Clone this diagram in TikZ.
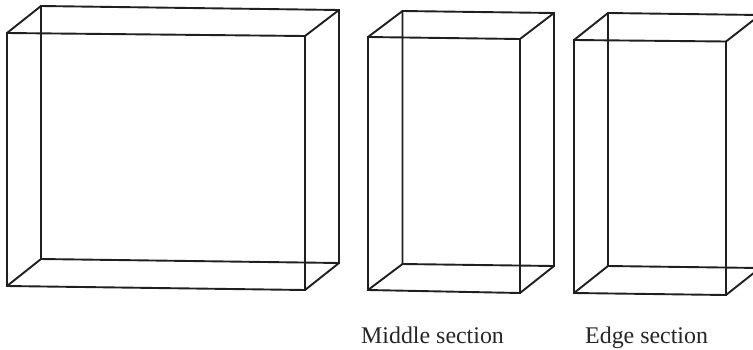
\documentclass[tikz,border=0pt]{standalone}
\usepackage{fontspec}
\setmainfont{Liberation Serif}
\tikzset{edge/.style={draw=black!88,line width=1.9pt,line join=miter,line cap=round},
  caption/.style={inner sep=0pt,anchor=base west,font=\fontsize{23.9}{26}\selectfont,text=black!85}}
\begin{document}
\begin{tikzpicture}[x=1pt,y=-1pt]
\useasboundingbox (0,0) rectangle (753,349);
\clip (0,0) rectangle (753,349);
% Large block
\draw[edge] (7,33) -- (305,36) -- (305,290) -- (7,286) -- cycle;
\draw[edge] (41,6) -- (339,10) -- (339,263) -- (41,259) -- cycle;
\draw[edge] (7,33) -- (41,6) (305,36) -- (339,10) (305,290) -- (339,263) (7,286) -- (41,259);
% Middle section
\draw[edge] (368,37) -- (520,39) -- (520,293) -- (368,290) -- cycle;
\draw[edge] (402.5,11) -- (554,13) -- (554,266) -- (402.5,264) -- cycle;
\draw[edge] (368,37) -- (402.5,11) (520,39) -- (554,13) (520,293) -- (554,266) (368,290) -- (402.5,264);
% Edge section
\draw[edge] (574,40) -- (726,41.5) -- (726,295) -- (574,293) -- cycle;
\draw[edge] (608,13) -- (760,15) -- (760,268) -- (608,266) -- cycle;
\draw[edge] (574,40) -- (608,13) (726,41.5) -- (760,15) (726,295) -- (760,268) (574,293) -- (608,266);
% Labels
\node[caption] (middle) at (361,343) {Middle section};
\node[caption] (edgesec) at (585,343) {Edge section};
\end{tikzpicture}
\end{document}
